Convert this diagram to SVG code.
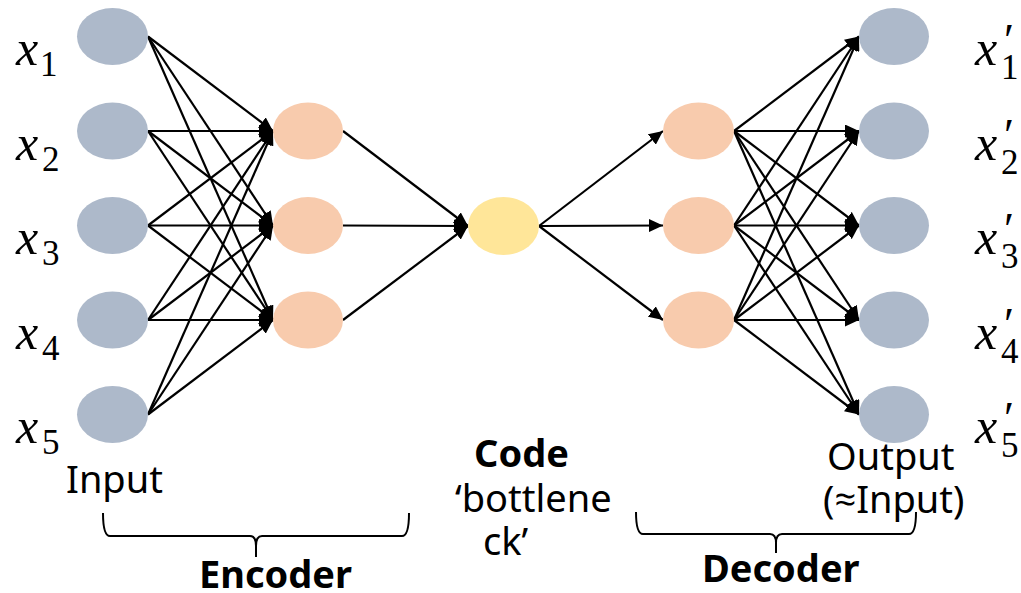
<svg xmlns="http://www.w3.org/2000/svg" width="1021" height="593" viewBox="0 0 1021 593">
  <style>
    .in { fill: #ADB9CA; }
    .hid { fill: #F8CBAD; }
    .code { fill: #FFE699; }
    .edge { stroke: #000; stroke-width: 2.2; fill: none; marker-end: url(#arrow); }
    .lbl { font-family: "Noto Sans", "Open Sans", sans-serif; font-size: 38px; fill: #000; }
    .bold { font-weight: bold; }
    .math { font-family: "Liberation Serif", "DejaVu Serif", serif; fill: #000; }
    .mx { font-style: italic; font-size: 50px; }
    .sub { font-size: 35px; }
    .prime { font-size: 46px; }
    .brace { stroke: #000; stroke-width: 2; fill: none; }
  </style>
  <defs>
    <marker id="arrow" markerUnits="userSpaceOnUse" markerWidth="15" markerHeight="13" refX="14" refY="6.5" orient="auto">
      <path d="M0,0 L14,6.5 L0,13 Z" fill="#000"/>
    </marker>
  </defs>

  <!-- connectors -->
  <g id="connectors">
    <!-- input layer to encoder hidden layer -->
    <line class="edge" x1="148" y1="36.5" x2="273" y2="131"/>
    <line class="edge" x1="148" y1="36.5" x2="273" y2="225.5"/>
    <line class="edge" x1="148" y1="36.5" x2="273" y2="320"/>
    <line class="edge" x1="148" y1="131" x2="273" y2="131"/>
    <line class="edge" x1="148" y1="131" x2="273" y2="225.5"/>
    <line class="edge" x1="148" y1="131" x2="273" y2="320"/>
    <line class="edge" x1="148" y1="225.5" x2="273" y2="131"/>
    <line class="edge" x1="148" y1="225.5" x2="273" y2="225.5"/>
    <line class="edge" x1="148" y1="225.5" x2="273" y2="320"/>
    <line class="edge" x1="148" y1="320" x2="273" y2="131"/>
    <line class="edge" x1="148" y1="320" x2="273" y2="225.5"/>
    <line class="edge" x1="148" y1="320" x2="273" y2="320"/>
    <line class="edge" x1="148" y1="414.5" x2="273" y2="131"/>
    <line class="edge" x1="148" y1="414.5" x2="273" y2="225.5"/>
    <line class="edge" x1="148" y1="414.5" x2="273" y2="320"/>
    <!-- encoder hidden layer to code -->
    <line class="edge" x1="343" y1="131" x2="468" y2="226"/>
    <line class="edge" x1="343" y1="225.5" x2="468" y2="226"/>
    <line class="edge" x1="343" y1="320" x2="468" y2="226"/>
    <!-- code to decoder hidden layer -->
    <line class="edge" x1="539" y1="226" x2="663" y2="131"/>
    <line class="edge" x1="539" y1="226" x2="663" y2="225.5"/>
    <line class="edge" x1="539" y1="226" x2="663" y2="320"/>
    <!-- decoder hidden layer to output layer -->
    <line class="edge" x1="734" y1="131" x2="859" y2="36.5"/>
    <line class="edge" x1="734" y1="131" x2="859" y2="131"/>
    <line class="edge" x1="734" y1="131" x2="859" y2="225.5"/>
    <line class="edge" x1="734" y1="131" x2="859" y2="320"/>
    <line class="edge" x1="734" y1="131" x2="859" y2="414.5"/>
    <line class="edge" x1="734" y1="225.5" x2="859" y2="36.5"/>
    <line class="edge" x1="734" y1="225.5" x2="859" y2="131"/>
    <line class="edge" x1="734" y1="225.5" x2="859" y2="225.5"/>
    <line class="edge" x1="734" y1="225.5" x2="859" y2="320"/>
    <line class="edge" x1="734" y1="225.5" x2="859" y2="414.5"/>
    <line class="edge" x1="734" y1="320" x2="859" y2="36.5"/>
    <line class="edge" x1="734" y1="320" x2="859" y2="131"/>
    <line class="edge" x1="734" y1="320" x2="859" y2="225.5"/>
    <line class="edge" x1="734" y1="320" x2="859" y2="320"/>
    <line class="edge" x1="734" y1="320" x2="859" y2="414.5"/>
  </g>

  <!-- input layer -->
  <g id="in1"><ellipse class="in" cx="112.5" cy="36.5" rx="35.5" ry="28.5"/></g>
  <g id="in2"><ellipse class="in" cx="112.5" cy="131" rx="35.5" ry="28.5"/></g>
  <g id="in3"><ellipse class="in" cx="112.5" cy="225.5" rx="35.5" ry="28.5"/></g>
  <g id="in4"><ellipse class="in" cx="112.5" cy="320" rx="35.5" ry="28.5"/></g>
  <g id="in5"><ellipse class="in" cx="112.5" cy="414.5" rx="35.5" ry="28.5"/></g>

  <!-- encoder hidden layer -->
  <g id="enc1"><ellipse class="hid" cx="308" cy="131" rx="35" ry="28.5"/></g>
  <g id="enc2"><ellipse class="hid" cx="308" cy="225.5" rx="35" ry="28.5"/></g>
  <g id="enc3"><ellipse class="hid" cx="308" cy="320" rx="35" ry="28.5"/></g>

  <!-- bottleneck -->
  <g id="code"><ellipse class="code" cx="503.5" cy="226" rx="35.5" ry="29"/></g>

  <!-- decoder hidden layer -->
  <g id="dec1"><ellipse class="hid" cx="698.5" cy="131" rx="35.5" ry="28.5"/></g>
  <g id="dec2"><ellipse class="hid" cx="698.5" cy="225.5" rx="35.5" ry="28.5"/></g>
  <g id="dec3"><ellipse class="hid" cx="698.5" cy="320" rx="35.5" ry="28.5"/></g>

  <!-- output layer -->
  <g id="out1"><ellipse class="in" cx="894" cy="36.5" rx="35" ry="28.5"/></g>
  <g id="out2"><ellipse class="in" cx="894" cy="131" rx="35" ry="28.5"/></g>
  <g id="out3"><ellipse class="in" cx="894" cy="225.5" rx="35" ry="28.5"/></g>
  <g id="out4"><ellipse class="in" cx="894" cy="320" rx="35" ry="28.5"/></g>
  <g id="out5"><ellipse class="in" cx="894" cy="414.5" rx="35" ry="28.5"/></g>

  <!-- input variable labels -->
  <g id="input-labels" class="math">
    <text x="16" y="65" class="mx">x</text><text x="40" y="76" class="sub">1</text>
    <text x="16" y="159.5" class="mx">x</text><text x="42" y="170.5" class="sub">2</text>
    <text x="16" y="254" class="mx">x</text><text x="42" y="265" class="sub">3</text>
    <text x="16" y="348.5" class="mx">x</text><text x="42" y="359.5" class="sub">4</text>
    <text x="16" y="443" class="mx">x</text><text x="42" y="454" class="sub">5</text>
  </g>

  <!-- reconstructed variable labels -->
  <g id="output-labels" class="math">
    <text x="975" y="65" class="mx">x</text><text x="1004" y="56" class="prime">′</text><text x="1001" y="79" class="sub">1</text>
    <text x="975" y="159.5" class="mx">x</text><text x="1004" y="150.5" class="prime">′</text><text x="1001" y="173.5" class="sub">2</text>
    <text x="975" y="254" class="mx">x</text><text x="1004" y="245" class="prime">′</text><text x="1001" y="268" class="sub">3</text>
    <text x="975" y="348.5" class="mx">x</text><text x="1004" y="339.5" class="prime">′</text><text x="1001" y="362.5" class="sub">4</text>
    <text x="975" y="443" class="mx">x</text><text x="1004" y="434" class="prime">′</text><text x="1001" y="457" class="sub">5</text>
  </g>

  <!-- captions -->
  <g id="captions">
    <text class="lbl" x="66" y="493">Input</text>
    <text class="lbl bold" x="474" y="467">Code</text>
    <text class="lbl" x="455" y="512">‘bottlene</text>
    <text class="lbl" x="483" y="555">ck’</text>
    <text class="lbl" x="827" y="470">Output</text>
    <text class="lbl" x="823" y="513">(≈Input)</text>
    <text class="lbl bold" x="199" y="588">Encoder</text>
    <text class="lbl bold" x="702" y="582">Decoder</text>
  </g>

  <!-- braces -->
  <g id="braces">
    <path class="brace" d="M103,513 Q103,536 110,536 L250,536 Q256,536 256,546 L256,557 M256,546 Q256,536 262,536 L402,536 Q409,536 409,513"/>
    <path class="brace" d="M636,512 Q636,534 643,534 L770,534 Q776,534 776,543 L776,553 M776,543 Q776,534 782,534 L909,534 Q916,534 916,512"/>
  </g>
</svg>
